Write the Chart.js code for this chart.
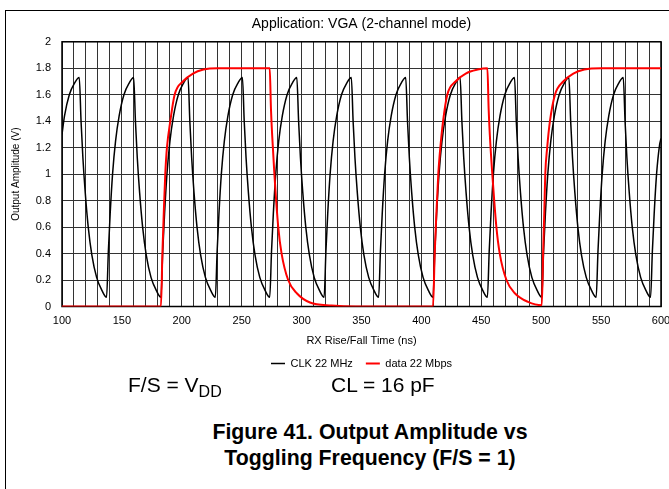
<!DOCTYPE html>
<html>
<head>
<meta charset="utf-8">
<script src="https://cdn.jsdelivr.net/npm/chart.js@4.4.1/dist/chart.umd.min.js"></script>
<style>
    html, body {
        margin: 0;
        padding: 0;
        background: #ffffff;
        overflow: hidden;
        width: 669px;
        height: 489px;
    }

    body {
        position: relative;
        font-family: "Liberation Sans", Arial, sans-serif;
        color: #000000;
    }

    #marco {
        position: absolute;
        left: 5px;
        top: 10px;
        width: 800px;
        height: 600px;
        border: 1px solid #000000;
    }

    #grafico {
        position: absolute;
        left: 0;
        top: 0;
    }

    .nota {
        position: absolute;
        top: 373px;
        font-size: 21px;
        line-height: 24px;
        white-space: nowrap;
    }

    .nota sub {
        font-size: 16px;
        vertical-align: -5px;
        line-height: 0;
    }

    #pie {
        position: absolute;
        left: 120px;
        top: 419px;
        width: 500px;
        text-align: center;
        font-weight: bold;
        font-size: 21.3px;
        line-height: 26px;
    }
</style>
</head>
<body>

<div id="marco"></div>

<canvas id="grafico" width="723" height="379"></canvas>

<div class="nota" style="left: 128px;">F/S = V<sub>DD</sub></div>
<div class="nota" style="left: 331px;">CL = 16 pF</div>

<div id="pie">Figure 41. Output Amplitude vs<br>Toggling Frequency (F/S = 1)</div>

<script>

const X_MIN = 100;
const X_MAX = 600;
const X_PASO = 10;
const X_ETIQUETA_CADA = 50;

const Y_MIN = 0;
const Y_MAX = 2;
const Y_PASO = 0.2;

const SERIES = [
    "CLK 22 MHz",
    "data 22 Mbps"
];

// CLK 22 MHz, tiempo en ns
const clkTiempo = [
    100, 102.1, 106.1, 110.6,
    114.4, 115.9, 117.4, 119.4, 121.9, 124.9, 128.9, 133.4,
    137.2, 138.7, 140.2, 142.2, 144.7, 147.7, 151.7, 156.2,
    159.8, 161.3, 162.8, 164.8, 167.3, 170.3, 174.3, 178.8,
    182.6, 184.1, 185.6, 187.6, 190.1, 193.1, 197.1, 201.6,
    205.2, 206.7, 208.2, 210.2, 212.7, 215.7, 219.7, 224.2,
    228.0, 229.5, 231.0, 233.0, 235.5, 238.5, 242.5, 247.0,
    250.6, 252.1, 253.6, 255.6, 258.1, 261.1, 265.1, 269.6,
    273.4, 274.9, 276.4, 278.4, 280.9, 283.9, 287.9, 292.4,
    296.0, 297.5, 299.0, 301.0, 303.5, 306.5, 310.5, 315.0,
    318.8, 320.3, 321.8, 323.8, 326.3, 329.3, 333.3, 337.8,
    341.5, 343.0, 344.5, 346.5, 349.0, 352.0, 356.0, 360.5,
    364.3, 365.8, 367.3, 369.3, 371.8, 374.8, 378.8, 383.3,
    386.9, 388.4, 389.9, 391.9, 394.4, 397.4, 401.4, 405.9,
    409.7, 411.2, 412.7, 414.7, 417.2, 420.2, 424.2, 428.7,
    432.3, 433.8, 435.3, 437.3, 439.8, 442.8, 446.8, 451.3,
    455.1, 456.6, 458.1, 460.1, 462.6, 465.6, 469.6, 474.1,
    477.7, 479.2, 480.7, 482.7, 485.2, 488.2, 492.2, 496.7,
    500.5, 502.0, 503.5, 505.5, 508.0, 511.0, 515.0, 519.5,
    523.1, 524.6, 526.1, 528.1, 530.6, 533.6, 537.6, 542.1,
    545.9, 547.4, 548.9, 550.9, 553.4, 556.4, 560.4, 564.9,
    568.5, 570.0, 571.5, 573.5, 576.0, 579.0, 583.0, 587.5,
    591.3, 592.8, 594.3, 596.3, 598.8, 600
];

// CLK 22 MHz, amplitud en V
const clkVoltios = [
    1.30, 1.44, 1.60, 1.69,
    1.73, 1.40, 1.13, 0.86, 0.60, 0.39, 0.22, 0.12,
    0.07, 0.42, 0.70, 1.00, 1.25, 1.44, 1.60, 1.69,
    1.73, 1.40, 1.13, 0.86, 0.60, 0.39, 0.22, 0.12,
    0.07, 0.42, 0.70, 1.00, 1.25, 1.44, 1.60, 1.69,
    1.73, 1.40, 1.13, 0.86, 0.60, 0.39, 0.22, 0.12,
    0.07, 0.42, 0.70, 1.00, 1.25, 1.44, 1.60, 1.69,
    1.73, 1.40, 1.13, 0.86, 0.60, 0.39, 0.22, 0.12,
    0.07, 0.42, 0.70, 1.00, 1.25, 1.44, 1.60, 1.69,
    1.73, 1.40, 1.13, 0.86, 0.60, 0.39, 0.22, 0.12,
    0.07, 0.42, 0.70, 1.00, 1.25, 1.44, 1.60, 1.69,
    1.73, 1.40, 1.13, 0.86, 0.60, 0.39, 0.22, 0.12,
    0.07, 0.42, 0.70, 1.00, 1.25, 1.44, 1.60, 1.69,
    1.73, 1.40, 1.13, 0.86, 0.60, 0.39, 0.22, 0.12,
    0.07, 0.42, 0.70, 1.00, 1.25, 1.44, 1.60, 1.69,
    1.73, 1.40, 1.13, 0.86, 0.60, 0.39, 0.22, 0.12,
    0.07, 0.42, 0.70, 1.00, 1.25, 1.44, 1.60, 1.69,
    1.73, 1.40, 1.13, 0.86, 0.60, 0.39, 0.22, 0.12,
    0.07, 0.42, 0.70, 1.00, 1.25, 1.44, 1.60, 1.69,
    1.73, 1.40, 1.13, 0.86, 0.60, 0.39, 0.22, 0.12,
    0.07, 0.42, 0.70, 1.00, 1.25, 1.44, 1.60, 1.69,
    1.73, 1.40, 1.13, 0.86, 0.60, 0.39, 0.22, 0.12,
    0.07, 0.42, 0.70, 1.00, 1.22, 1.27
];

// data 22 Mbps, tiempo en ns
const dataTiempo = [
    100, 182.6,
    183.8, 185.0, 186.2, 187.6, 190.4, 194.0, 200.9, 209.3, 218, 230,
    273.4,
    274.4, 275.4, 277.3, 280.5, 283.3, 288.8, 296, 307, 325, 345,
    409.7,
    411.1, 412.6, 414.1, 415.8, 418.1, 421.6, 428.5, 437, 447,
    455.1,
    456.1, 457.1, 459.2, 462.6, 465.4, 471, 478, 489,
    500.5,
    501.6, 502.6, 503.4, 505.0, 507.3, 511.5, 518.4, 526.8, 536, 550,
    600
];

// data 22 Mbps, amplitud en V
const dataVoltios = [
    0, 0,
    0.40, 0.72, 1.00, 1.20, 1.40, 1.60, 1.70, 1.76, 1.79, 1.80,
    1.80,
    1.50, 1.30, 1.00, 0.60, 0.40, 0.20, 0.10, 0.03, 0.008, 0,
    0,
    0.40, 0.72, 1.00, 1.20, 1.40, 1.60, 1.70, 1.76, 1.79,
    1.80,
    1.50, 1.30, 1.00, 0.60, 0.40, 0.20, 0.10, 0.035,
    0.01,
    0.40, 0.72, 1.00, 1.20, 1.40, 1.60, 1.70, 1.76, 1.79, 1.80,
    1.80
];

const FUENTE = "'Liberation Sans', Arial, sans-serif";

function puntos(tiempos, voltios) {
    return tiempos.map((t, i) => ({ x: t, y: voltios[i] }));
}

// marco negro del area de trazado, debajo de las curvas
const marcoArea = {
    id: "marcoArea",
    beforeDatasetsDraw(chart) {
        const a = chart.chartArea;
        const c = chart.ctx;
        c.save();
        c.strokeStyle = "#000000";
        c.lineWidth = 1.5;
        c.strokeRect(a.left, a.top, a.right - a.left, a.bottom - a.top);
        c.restore();
    }
};

function crearGrafico() {

    const ctx =
        document.getElementById(
            "grafico"
        );

    new Chart(ctx, {

        type: "line",

        data: {
            datasets: [
                {
                    label: SERIES[0],
                    data: puntos(clkTiempo, clkVoltios),
                    borderColor: "#000000",
                    backgroundColor: "#000000",
                    borderWidth: 1.5,
                    pointRadius: 0,
                    cubicInterpolationMode: "monotone",
                    order: 1
                },
                {
                    label: SERIES[1],
                    data: puntos(dataTiempo, dataVoltios),
                    borderColor: "#ff0000",
                    backgroundColor: "#ff0000",
                    borderWidth: 2,
                    pointRadius: 0,
                    cubicInterpolationMode: "monotone",
                    order: 0
                }
            ]
        },

        options: {
            responsive: false,
            animation: false,
            layout: {
                padding: { top: 15.5, right: 62, bottom: 0, left: 0 }
            },
            plugins: {
                title: {
                    display: true,
                    fullSize: false,
                    text: "Application: VGA (2-channel mode)",
                    color: "#000000",
                    font: { family: FUENTE, size: 14, weight: "normal" },
                    padding: { top: 0, bottom: 9.5 }
                },
                legend: {
                    position: "bottom",
                    fullSize: false,
                    labels: {
                        sort: (a, b) => a.datasetIndex - b.datasetIndex,
                        usePointStyle: true,
                        pointStyle: "line",
                        pointStyleWidth: 14,
                        padding: 13,
                        color: "#000000",
                        font: { family: FUENTE, size: 11 }
                    }
                },
                tooltip: { enabled: false }
            },
            scales: {
                x: {
                    type: "linear",
                    min: X_MIN,
                    max: X_MAX,
                    afterFit(scale) {
                        scale.height = 38.5;
                    },
                    ticks: {
                        stepSize: X_PASO,
                        autoSkip: false,
                        maxRotation: 0,
                        padding: 8,
                        color: "#000000",
                        font: { family: FUENTE, size: 11 },
                        callback: v => v % X_ETIQUETA_CADA === 0 ? String(v) : ""
                    },
                    grid: {
                        color: "#333333",
                        lineWidth: 1,
                        drawTicks: false
                    },
                    border: { display: false },
                    title: {
                        display: true,
                        text: "RX Rise/Fall Time (ns)",
                        color: "#000000",
                        font: { family: FUENTE, size: 11 },
                        padding: { top: 0, bottom: -2.6 }
                    }
                },
                y: {
                    min: Y_MIN,
                    max: Y_MAX,
                    afterFit(scale) {
                        scale.width = 62;
                    },
                    ticks: {
                        stepSize: Y_PASO,
                        padding: 11,
                        color: "#000000",
                        font: { family: FUENTE, size: 11 },
                        callback: v => String(Math.round(v * 10) / 10)
                    },
                    grid: {
                        color: "#333333",
                        lineWidth: 1,
                        drawTicks: false
                    },
                    border: { display: false },
                    title: {
                        display: true,
                        text: "Output Amplitude (V)",
                        color: "#000000",
                        font: { family: FUENTE, size: 10 },
                        padding: { top: 10, bottom: 0 }
                    }
                }
            }
        },

        plugins: [marcoArea]

    });
}

crearGrafico();

</script>
</body>
</html>
